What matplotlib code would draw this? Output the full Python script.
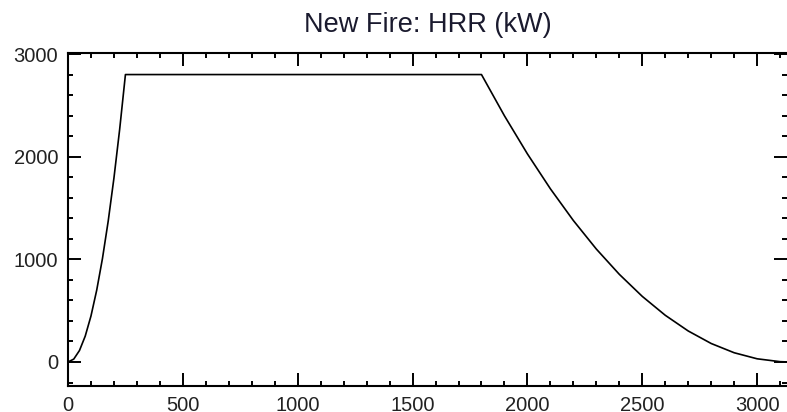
import matplotlib
matplotlib.use("Agg")
from matplotlib import pyplot as plt
from matplotlib.ticker import MultipleLocator

# HRR ramp: t^2 growth, steady, decay
time_s = [0, 25, 50, 75, 100, 125, 150, 175, 200, 225, 250,
          1800, 1900, 2000, 2100, 2200, 2300, 2400, 2500, 2600,
          2700, 2800, 2900, 3000, 3100, 3140]
hrr_kw = [0, 28, 112, 252, 448, 700, 1008, 1372, 1792, 2268, 2800,
          2800, 2398, 2027, 1687, 1378, 1100, 854, 639, 455,
          302, 180, 90, 31, 3, 0]

title = "New Fire: HRR (kW)"

plt.rcParams['font.family'] = ['Liberation Sans', 'DejaVu Sans']

fig = plt.figure(figsize=(7.87, 4.12), dpi=100)
ax = fig.add_axes([68 / 787, 26 / 412, (787 - 68) / 787, (386 - 53) / 412])

ax.plot(time_s, hrr_kw, color='black', linewidth=1.2)

ax.set_xlim(0, 3130)
ax.set_ylim(-234, 3010)

ax.xaxis.set_major_locator(MultipleLocator(500))
ax.xaxis.set_minor_locator(MultipleLocator(100))
ax.yaxis.set_major_locator(MultipleLocator(1000))
ax.yaxis.set_minor_locator(MultipleLocator(200))

ax.tick_params(which='both', direction='in', top=True, right=True,
               color='black', labelsize=14.5, labelcolor='#222222', pad=7)
ax.tick_params(which='major', length=9.5, width=1.4)
ax.tick_params(which='minor', length=3.5, width=1.4)

for side in ['left', 'bottom', 'top']:
    ax.spines[side].set_linewidth(1.5)
ax.spines['right'].set_visible(False)

ax.set_title(title, fontsize=19.5, color='#1a1a2e', pad=15)

fig.savefig("out.png", dpi=100)
